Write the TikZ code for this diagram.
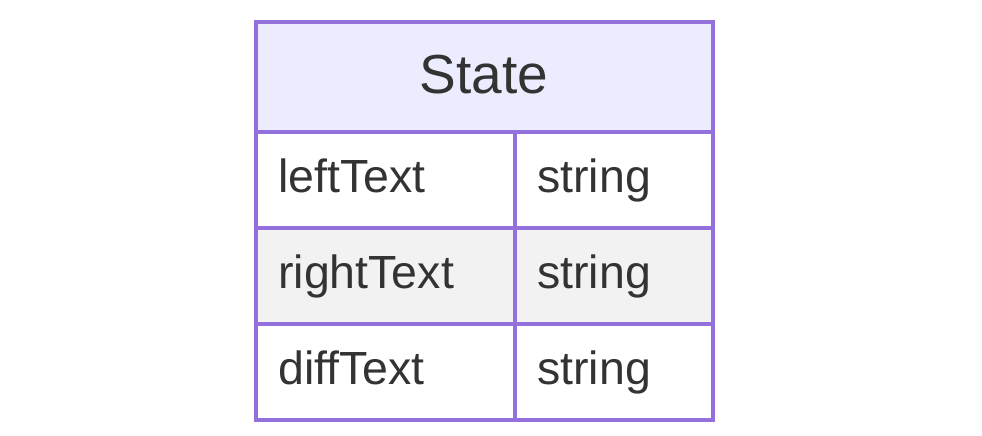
\documentclass[tikz,border=0pt]{standalone}
\usepackage{fontspec}
\setmainfont{Liberation Sans}
\definecolor{erborder}{HTML}{9370DB}
\definecolor{erhead}{HTML}{ECECFF}
\definecolor{eralt}{HTML}{F2F2F2}
\definecolor{ertext}{HTML}{333333}
\begin{document}
\begin{tikzpicture}[x=1pt,y=-1pt,
  cell/.style={draw=erborder,line width=4pt,rectangle,inner sep=0pt,outer sep=0pt},
  headcell/.style={cell,fill=erhead,minimum width=457pt,minimum height=109pt},
  namecell/.style={cell,minimum width=259pt,minimum height=96pt},
  typecell/.style={cell,minimum width=198pt,minimum height=96pt},
  title/.style={text=ertext,font=\fontsize{55}{66}\selectfont,anchor=base,inner sep=0pt},
  attr/.style={text=ertext,font=\fontsize{46.5}{56}\selectfont,anchor=base west,inner sep=0pt}]
  \useasboundingbox[fill=white] (0,0) rectangle (982,436);
  % entity header
  \node[headcell] (head) at (484,77) {};
  % attribute rows
  \node[namecell] (n1) at (385,179.5) {};
  \node[typecell] (t1) at (613.5,179.5) {};
  \node[namecell,fill=eralt] (n2) at (385,275.5) {};
  \node[typecell,fill=eralt] (t2) at (613.5,275.5) {};
  \node[namecell] (n3) at (385,371.5) {};
  \node[typecell] (t3) at (613.5,371.5) {};
  % texts
  \node[title] (ltitle) at (484,93) {State};
  \node[attr] (la1) at (278,192) {leftText};
  \node[attr] (lb1) at (537,192) {string};
  \node[attr] (la2) at (278,288) {rightText};
  \node[attr] (lb2) at (537,288) {string};
  \node[attr] (la3) at (278,384) {diffText};
  \node[attr] (lb3) at (537,384) {string};
\end{tikzpicture}
\end{document}
